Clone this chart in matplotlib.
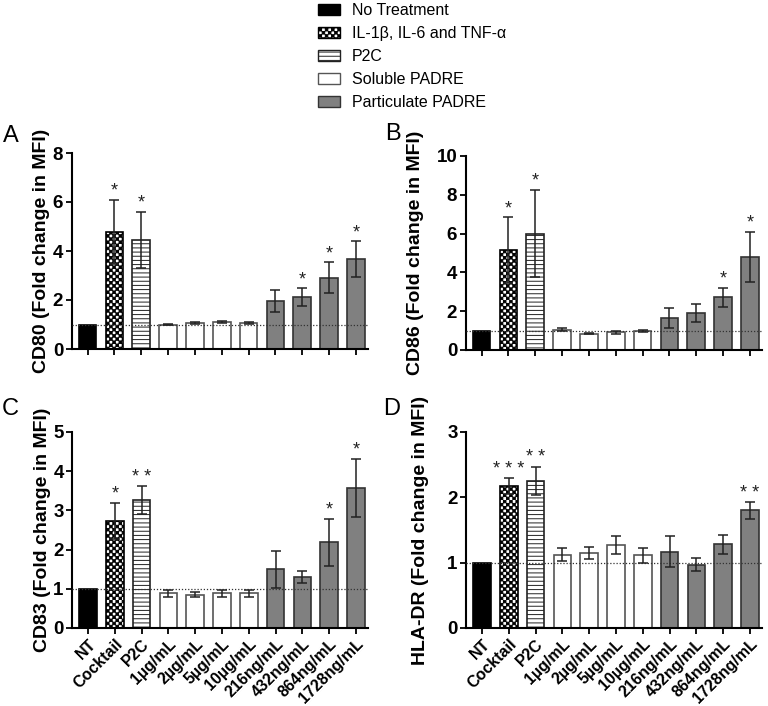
import numpy as np
import matplotlib
matplotlib.use('Agg')
import matplotlib.pyplot as plt
import matplotlib.hatch as mhatch
from matplotlib.path import Path
from matplotlib.patches import Patch

# Donnees (moyenne, SEM, significativite)
groups = ['NT', 'Cocktail', 'P2C', '1\u00b5g/mL', '2\u00b5g/mL', '5\u00b5g/mL', '10\u00b5g/mL',
          '216ng/mL', '432ng/mL', '864ng/mL', '1728ng/mL']

cd80_mean = [1.0, 4.78, 4.45, 1.0, 1.05, 1.09, 1.05, 1.95, 2.12, 2.91, 3.67]
cd80_sem = [0, 1.3, 1.15, 0.02, 0.04, 0.04, 0.04, 0.45, 0.35, 0.63, 0.72]
cd80_sig = ['', '*', '*', '', '', '', '', '', '*', '*', '*']

cd86_mean = [1.0, 5.13, 6.0, 1.04, 0.85, 0.92, 0.97, 1.65, 1.9, 2.72, 4.79]
cd86_sem = [0, 1.7, 2.25, 0.07, 0.04, 0.08, 0.06, 0.5, 0.46, 0.5, 1.3]
cd86_sig = ['', '*', '*', '', '', '', '', '', '', '*', '*']

cd83_mean = [1.0, 2.73, 3.27, 0.89, 0.85, 0.89, 0.89, 1.50, 1.30, 2.19, 3.57]
cd83_sem = [0, 0.47, 0.35, 0.09, 0.07, 0.09, 0.09, 0.47, 0.15, 0.6, 0.75]
cd83_sig = ['', '*', '**', '', '', '', '', '', '', '*', '*']

hla_mean = [1.0, 2.17, 2.25, 1.12, 1.15, 1.27, 1.11, 1.17, 0.97, 1.28, 1.80]
hla_sem = [0, 0.12, 0.22, 0.1, 0.09, 0.14, 0.11, 0.24, 0.1, 0.14, 0.13]
hla_sig = ['', '***', '**', '', '', '', '', '', '', '', '**']

legend_labels = ['No Treatment', 'IL-1\u03b2, IL-6 and TNF-\u03b1', 'P2C',
                 'Soluble PADRE', 'Particulate PADRE']

plt.rcParams['font.family'] = ['Liberation Sans', 'DejaVu Sans']
plt.rcParams['hatch.linewidth'] = 0.7
plt.rcParams['hatch.color'] = 'black'


class CheckerHatch(mhatch.HatchPatternBase):
    """damier pour le '*' (remplace les etoiles de matplotlib)"""
    def __init__(self, hatch, density):
        self.n = 32 if '*' in hatch else 0
        self.num_vertices = (self.n * self.n // 2) * 5

    def set_vertices_and_codes(self, vertices, codes):
        step = 1.0 / self.n
        e = 0.003
        k = 0
        for i in range(self.n):
            for j in range(self.n):
                if (i + j) % 2:
                    continue
                x0, y0 = i * step + e, j * step + e
                x1, y1 = (i + 1) * step - e, (j + 1) * step - e
                vertices[k:k + 5] = [[x0, y0], [x1, y0], [x1, y1], [x0, y1], [x0, y0]]
                codes[k:k + 5] = [Path.MOVETO, Path.LINETO, Path.LINETO, Path.LINETO, Path.CLOSEPOLY]
                k += 5


mhatch._hatch_types = [t for t in mhatch._hatch_types if t is not mhatch.Stars] + [CheckerHatch]

# style de chaque groupe : (couleur, bord, hachure)
styles = [('black', 'black', None), ('white', 'black', '*'), ('white', '#222222', '----')] \
    + [('white', '#555555', None)] * 4 + [('#808080', '#333333', None)] * 4

W, H = 768., 706.


def box(l, t, r, b):
    return [l / W, 1 - b / H, (r - l) / W, (b - t) / H]


fig = plt.figure(figsize=(7.68, 7.06), dpi=100)

panels = [
    (cd80_mean, cd80_sem, cd80_sig, 'CD80 (Fold change in MFI)', 8, 2, box(71.5, 153, 368, 349), False, -0.072),
    (cd86_mean, cd86_sem, cd86_sig, 'CD86 (Fold change in MFI)', 10, 2, box(465.5, 156, 762, 350), False, -0.140),
    (cd83_mean, cd83_sem, cd83_sig, 'CD83 (Fold change in MFI)', 5, 1, box(72, 432, 368, 628), True, -0.070),
    (hla_mean, hla_sem, hla_sig, 'HLA-DR (Fold change in MFI)', 3, 1, box(466, 432, 762, 628), True, -0.125),
]

x = np.arange(len(groups))
for mean, sem, sig, ylab, ymax, ystep, pos, showx, labx in panels:
    ax = fig.add_axes(pos)
    for i in range(len(groups)):
        fc, ec, ht = styles[i]
        ax.bar(x[i], mean[i], width=0.66, color=fc, edgecolor=ec, hatch=ht, linewidth=1.2, zorder=2)
        if sem[i] > 0:
            ax.errorbar(x[i], mean[i], yerr=sem[i], color='#222222', lw=1.1, capsize=3.5,
                        capthick=1.1, zorder=4)
        if sig[i]:
            ax.annotate(' '.join(sig[i]), (x[i], mean[i] + sem[i]), xytext=(0, 3),
                        textcoords='offset points', ha='center', va='baseline', fontsize=13,
                        color='#222222')
    ax.axhline(1, color='#333333', lw=0.9, ls=(0, (1, 1.5)), zorder=3)
    ax.set_xlim(-0.6, 10.45)
    ax.set_ylim(0, ymax)
    ax.set_yticks(np.arange(0, ymax + ystep / 2, ystep))
    ax.set_xticks(x)
    if showx:
        ax.set_xticklabels(groups, rotation=45, ha='right', rotation_mode='anchor',
                           fontsize=11.5, fontweight='bold')
    else:
        ax.set_xticklabels([])
    for lab in ax.get_yticklabels():
        lab.set_fontweight('bold')
        lab.set_fontsize(13.5)
    ax.set_ylabel(ylab, fontsize=14, fontweight='bold')
    ax.yaxis.set_label_coords(labx, 0.5)
    ax.spines['top'].set_visible(False)
    ax.spines['right'].set_visible(False)
    ax.spines['left'].set_linewidth(1.5)
    ax.spines['bottom'].set_linewidth(1.5)
    ax.tick_params(direction='out', length=4, width=1.3, pad=2)

fig.text(3 / W, 1 - 142 / H, 'A', fontsize=17)
fig.text(385 / W, 1 - 140 / H, 'B', fontsize=17)
fig.text(2 / W, 1 - 415 / H, 'C', fontsize=17)
fig.text(383 / W, 1 - 415 / H, 'D', fontsize=17)

handles = [Patch(facecolor=styles[k][0], edgecolor=styles[k][1], hatch=styles[k][2], lw=1)
           for k in [0, 1, 2, 3, 7]]
fig.legend(handles, legend_labels, loc='upper left', bbox_to_anchor=(318 / W, 1 - 3 / H),
           frameon=False, fontsize=11.5, handlelength=1.4, handleheight=0.72, handletextpad=0.7,
           labelspacing=0.5, borderpad=0, borderaxespad=0)

fig.savefig('out.png', dpi=100)
